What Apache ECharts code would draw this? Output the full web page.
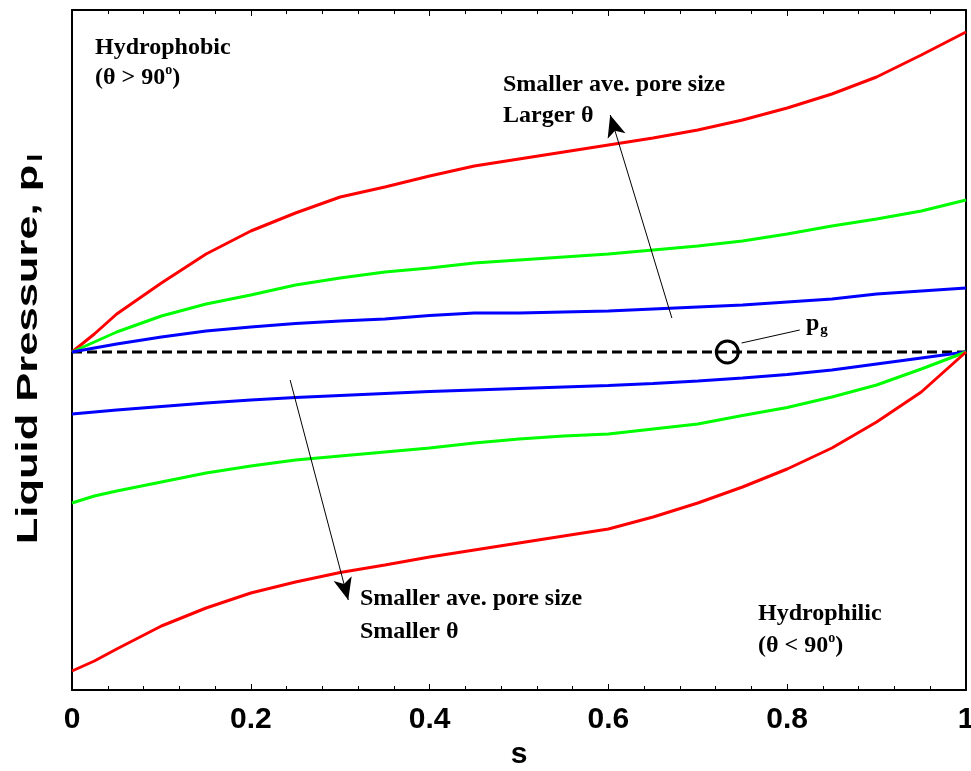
<!DOCTYPE html>
<html>
<head>
<meta charset="utf-8">
<script src="https://cdn.jsdelivr.net/npm/echarts@6/dist/echarts.min.js"></script>
<style>
  html, body { margin: 0; padding: 0; background: #fff; }
  #chart { width: 971px; height: 771px; }
</style>
</head>
<body>
<div id="chart"></div>
<script>
// saturation s (x axis)
var sValues = [0, 0.025, 0.05, 0.1, 0.15, 0.2, 0.25, 0.3, 0.35, 0.4, 0.45, 0.5, 0.55, 0.6, 0.65, 0.7, 0.75, 0.8, 0.85, 0.9, 0.95, 1];
// liquid pressure relative to p_g (arbitrary units, no y tick labels in the figure)
var redUpper   = [0, 0.18, 0.38, 0.69, 0.98, 1.21, 1.39, 1.55, 1.65, 1.76, 1.86, 1.93, 2.00, 2.07, 2.14, 2.22, 2.32, 2.44, 2.58, 2.75, 2.97, 3.20];
var greenUpper = [0, 0.10, 0.20, 0.36, 0.48, 0.57, 0.67, 0.74, 0.80, 0.84, 0.89, 0.92, 0.95, 0.98, 1.02, 1.06, 1.11, 1.18, 1.26, 1.33, 1.41, 1.52];
var blueUpper  = [0, 0.04, 0.08, 0.15, 0.21, 0.25, 0.285, 0.31, 0.33, 0.365, 0.39, 0.39, 0.40, 0.41, 0.43, 0.45, 0.47, 0.50, 0.53, 0.58, 0.61, 0.64];
var blueLower  = [-0.62, -0.60, -0.58, -0.545, -0.51, -0.48, -0.455, -0.435, -0.415, -0.395, -0.38, -0.365, -0.35, -0.335, -0.316, -0.29, -0.26, -0.225, -0.18, -0.12, -0.06, 0];
var greenLower = [-1.51, -1.44, -1.39, -1.30, -1.21, -1.14, -1.08, -1.04, -1.00, -0.96, -0.91, -0.87, -0.84, -0.82, -0.77, -0.72, -0.635, -0.555, -0.45, -0.33, -0.17, 0];
var redLower   = [-3.19, -3.09, -2.97, -2.74, -2.56, -2.41, -2.30, -2.205, -2.13, -2.05, -1.98, -1.91, -1.84, -1.77, -1.65, -1.51, -1.35, -1.17, -0.96, -0.70, -0.40, 0];
var xTicks = [0, 0.2, 0.4, 0.6, 0.8, 1];
var gasLevel = [[0, 0], [1, 0]];

function pairs(ys) {
  return sValues.map(function (s, i) { return [s, ys[i]]; });
}

var serif = "'Liberation Serif', 'Times New Roman', serif";
var sans = "'Liberation Sans', Arial, sans-serif";

function curve(name, ys, color) {
  return {
    name: name,
    type: 'line',
    data: pairs(ys),
    showSymbol: false,
    silent: true,
    lineStyle: { color: color, width: 3 },
    z: 3
  };
}

// superscript / subscript helpers for rich text
var supRich = { sup: { fontSize: 14, fontWeight: 'bold', fontFamily: serif, color: '#000', padding: [0, 0, 16, 0] } };
var subRich = { sub: { fontSize: 15, fontWeight: 'bold', fontFamily: serif, color: '#000', verticalAlign: 'bottom', padding: [12, 0, 0, 1] } };

var myChart = echarts.init(document.getElementById('chart'));

var axisCommon = {
  type: 'value',
  min: 0,
  max: 1,
  interval: 0.2,
  axisLine: { show: true, onZero: false, lineStyle: { color: '#000', width: 2 } },
  axisTick: { show: true, inside: true, length: 6, lineStyle: { color: '#000', width: 1 } },
  minorTick: { show: true, splitNumber: 5, length: 4, lineStyle: { color: '#000', width: 1 } },
  splitLine: { show: false }
};

var yCommon = {
  type: 'value',
  min: -3.38,
  max: 3.42,
  axisLine: { show: true, onZero: false, lineStyle: { color: '#000', width: 2 } },
  axisTick: { show: false },
  axisLabel: { show: false },
  splitLine: { show: false }
};

myChart.setOption({
  animation: false,
  backgroundColor: '#fff',
  grid: { left: 72, right: 5, top: 10, bottom: 81, containLabel: false, outerBoundsMode: 'none' },
  xAxis: [
    Object.assign({}, axisCommon, {
      position: 'bottom',
      name: 's',
      nameLocation: 'middle',
      nameGap: 48,
      nameTextStyle: { fontSize: 30, fontWeight: 'bold', fontFamily: sans, color: '#000' },
      axisLabel: {
        margin: 15,
        fontSize: 30,
        fontWeight: 'bold',
        fontFamily: sans,
        color: '#000',
        formatter: function (v) { var r = Math.round(v * 10) / 10; return xTicks.indexOf(r) >= 0 ? String(r) : ''; }
      }
    }),
    Object.assign({}, axisCommon, {
      position: 'top',
      axisLabel: { show: false }
    })
  ],
  yAxis: [
    Object.assign({}, yCommon, { position: 'left' }),
    Object.assign({}, yCommon, { position: 'right' })
  ],
  series: [
    {
      name: 'p_g',
      type: 'line',
      data: gasLevel,
      showSymbol: false,
      silent: true,
      lineStyle: { color: '#000', width: 3, type: [10, 5] },
      z: 2,
      markPoint: {
        silent: true,
        symbol: 'circle',
        symbolSize: 22,
        itemStyle: { color: 'rgba(0,0,0,0)', borderColor: '#000', borderWidth: 3 },
        label: { show: false },
        data: [{ coord: [0.733, 0] }]
      },
      markLine: {
        silent: true,
        animation: false,
        label: { show: false },
        lineStyle: { color: '#000', width: 1, type: 'solid' },
        symbolSize: [14, 22],
        data: [
          [{ coord: [0.671, 0.34], symbol: 'none' }, { coord: [0.602, 2.37], symbol: 'arrow' }],
          [{ coord: [0.244, -0.28], symbol: 'none' }, { coord: [0.309, -2.48], symbol: 'arrow' }],
          [{ coord: [0.749, 0.09], symbol: 'none' }, { coord: [0.814, 0.22], symbol: 'none' }]
        ]
      }
    },
    curve('red upper', redUpper, '#ff0000'),
    curve('green upper', greenUpper, '#00ff00'),
    curve('blue upper', blueUpper, '#0000ff'),
    curve('blue lower', blueLower, '#0000ff'),
    curve('green lower', greenLower, '#00ff00'),
    curve('red lower', redLower, '#ff0000')
  ],
  graphic: [
    // y axis title, stretched along its length like the original export
    { type: 'text', x: 29, y: 349, rotation: Math.PI / 2, scaleX: 1.45, silent: true, style: {
        text: 'Liquid Pressure, p{sub|l}', font: 'bold 30px ' + sans, fill: '#000', align: 'center', verticalAlign: 'middle',
        rich: { sub: { fontSize: 20, fontWeight: 'bold', fontFamily: sans, color: '#000', verticalAlign: 'bottom', padding: [14, 0, 0, 2] } } } },
    { type: 'text', left: 95, top: 36, style: { text: 'Hydrophobic', font: 'bold 24px ' + serif, fill: '#000' } },
    { type: 'text', left: 95, top: 63, style: { text: '(θ > 90{sup|o})', font: 'bold 24px ' + serif, fill: '#000', rich: supRich } },
    { type: 'text', left: 503, top: 73, style: { text: 'Smaller ave. pore size', font: 'bold 24px ' + serif, fill: '#000' } },
    { type: 'text', left: 503, top: 104, style: { text: 'Larger θ', font: 'bold 24px ' + serif, fill: '#000' } },
    { type: 'text', left: 360, top: 587, style: { text: 'Smaller ave. pore size', font: 'bold 24px ' + serif, fill: '#000' } },
    { type: 'text', left: 360, top: 620, style: { text: 'Smaller θ', font: 'bold 24px ' + serif, fill: '#000' } },
    { type: 'text', left: 758, top: 602, style: { text: 'Hydrophilic', font: 'bold 24px ' + serif, fill: '#000' } },
    { type: 'text', left: 758, top: 631, style: { text: '(θ < 90{sup|o})', font: 'bold 24px ' + serif, fill: '#000', rich: supRich } },
    { type: 'text', left: 806, top: 312, style: { text: 'p{sub|g}', font: 'bold 24px ' + serif, fill: '#000', rich: subRich } }
  ]
});
</script>
</body>
</html>
